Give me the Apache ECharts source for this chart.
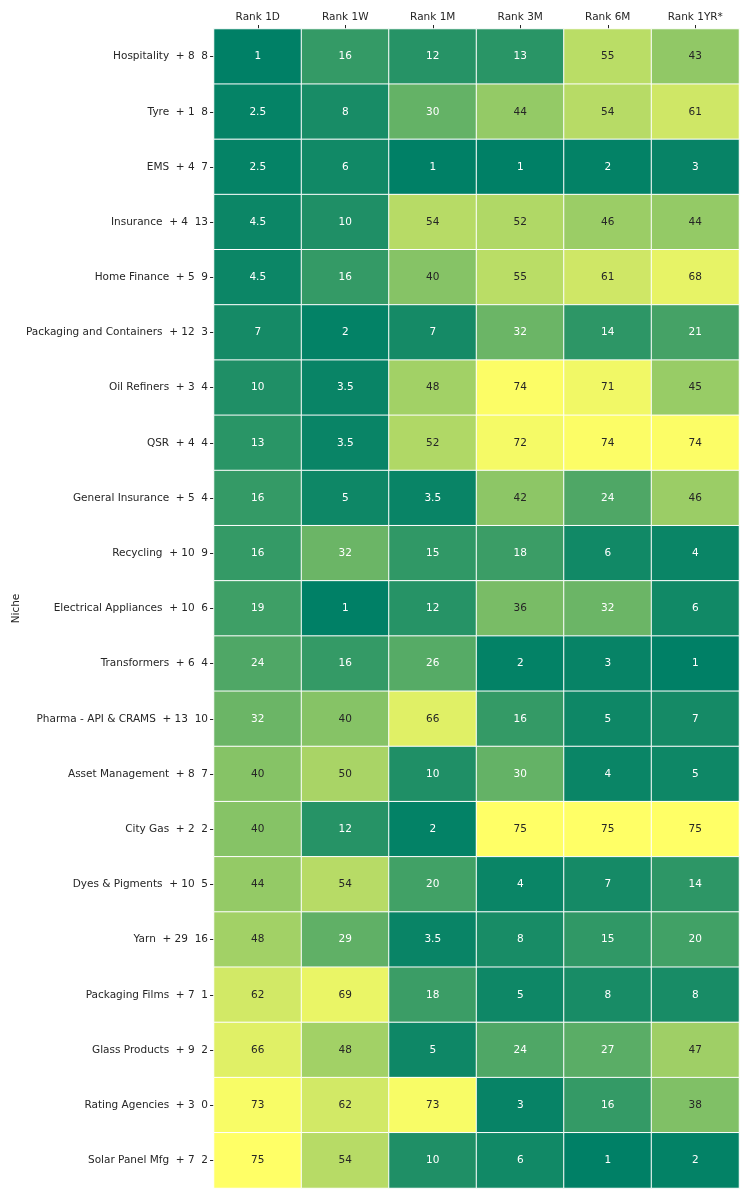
<!DOCTYPE html>
<html>
<head>
<meta charset="utf-8">
<script src="https://cdn.jsdelivr.net/npm/echarts@6/dist/echarts.min.js"></script>
<style>html,body{margin:0;padding:0;background:#fff;}#c{width:750px;height:1200px;}</style>
</head>
<body>
<div id="c"></div>
<script>
const columns = ['Rank 1D', 'Rank 1W', 'Rank 1M', 'Rank 3M', 'Rank 6M', 'Rank 1YR*'];
const niches = [
  'Hospitality  + 8  8', 'Tyre  + 1  8', 'EMS  + 4  7', 'Insurance  + 4  13',
  'Home Finance  + 5  9', 'Packaging and Containers  + 12  3', 'Oil Refiners  + 3  4',
  'QSR  + 4  4', 'General Insurance  + 5  4', 'Recycling  + 10  9',
  'Electrical Appliances  + 10  6', 'Transformers  + 6  4', 'Pharma - API & CRAMS  + 13  10',
  'Asset Management  + 8  7', 'City Gas  + 2  2', 'Dyes & Pigments  + 10  5',
  'Yarn  + 29  16', 'Packaging Films  + 7  1', 'Glass Products  + 9  2',
  'Rating Agencies  + 3  0', 'Solar Panel Mfg  + 7  2'
];
const rank1D  = [1, 2.5, 2.5, 4.5, 4.5, 7, 10, 13, 16, 16, 19, 24, 32, 40, 40, 44, 48, 62, 66, 73, 75];
const rank1W  = [16, 8, 6, 10, 16, 2, 3.5, 3.5, 5, 32, 1, 16, 40, 50, 12, 54, 29, 69, 48, 62, 54];
const rank1M  = [12, 30, 1, 54, 40, 7, 48, 52, 3.5, 15, 12, 26, 66, 10, 2, 20, 3.5, 18, 5, 73, 10];
const rank3M  = [13, 44, 1, 52, 55, 32, 74, 72, 42, 18, 36, 2, 16, 30, 75, 4, 8, 5, 24, 3, 6];
const rank6M  = [55, 54, 2, 46, 61, 14, 71, 74, 24, 6, 32, 3, 5, 4, 75, 7, 15, 8, 27, 16, 1];
const rank1YR = [43, 61, 3, 44, 68, 21, 45, 74, 46, 4, 6, 1, 7, 5, 75, 14, 20, 8, 47, 38, 2];

const VMIN = 1, VMAX = 75;
const seriesCols = [rank1D, rank1W, rank1M, rank3M, rank6M, rank1YR];

function summer(v) {
  const t = Math.max(0, Math.min(1, (v - VMIN) / (VMAX - VMIN)));
  return [t, 0.5 + 0.5 * t, 0.4];
}
function lum(rgb) {
  const lin = c => c <= 0.03928 ? c / 12.92 : Math.pow((c + 0.055) / 1.055, 2.4);
  return 0.2126 * lin(rgb[0]) + 0.7152 * lin(rgb[1]) + 0.0722 * lin(rgb[2]);
}

const data = [];
seriesCols.forEach((col, ci) => {
  col.forEach((v, ri) => {
    const dark = lum(summer(v)) > 0.408;
    data.push({
      value: [ci, ri, v],
      label: { color: dark ? '#262626' : '#ffffff' }
    });
  });
});

const chart = echarts.init(document.getElementById('c'), null, { renderer: 'canvas' });
chart.setOption({
  animation: false,
  backgroundColor: '#ffffff',
  textStyle: { fontFamily: 'DejaVu Sans' },
  grid: { left: 214, right: 11, top: 29, bottom: 12, containLabel: false, outerBoundsMode: 'none' },
  xAxis: {
    type: 'category',
    data: columns,
    position: 'top',
    axisLine: { show: false },
    axisTick: { show: true, alignWithLabel: true, length: 4, lineStyle: { color: '#262626' } },
    axisLabel: { color: '#262626', fontSize: 10.5, margin: 6, fontFamily: 'DejaVu Sans' },
    splitLine: { show: false }
  },
  yAxis: {
    type: 'category',
    data: niches,
    inverse: true,
    name: 'Niche',
    nameLocation: 'middle',
    nameGap: 192,
    nameRotate: 90,
    nameMoveOverlap: false,
    nameTextStyle: { color: '#262626', fontSize: 10.5, fontFamily: 'DejaVu Sans' },
    axisLine: { show: false },
    axisTick: { show: true, alignWithLabel: true, length: 4, lineStyle: { color: '#262626' } },
    axisLabel: { color: '#262626', fontSize: 10.5, margin: 6, fontFamily: 'DejaVu Sans' },
    splitLine: { show: false }
  },
  visualMap: {
    show: false,
    min: VMIN,
    max: VMAX,
    dimension: 2,
    inRange: { color: ['#008066', '#ffff66'] }
  },
  series: [{
    type: 'heatmap',
    data: data,
    label: {
      show: true,
      fontSize: 10.5,
      fontFamily: 'DejaVu Sans',
      formatter: p => String(p.value[2])
    },
    itemStyle: { borderColor: '#ffffff', borderWidth: 1 },
    emphasis: { disabled: true }
  }]
});
</script>
</body>
</html>
